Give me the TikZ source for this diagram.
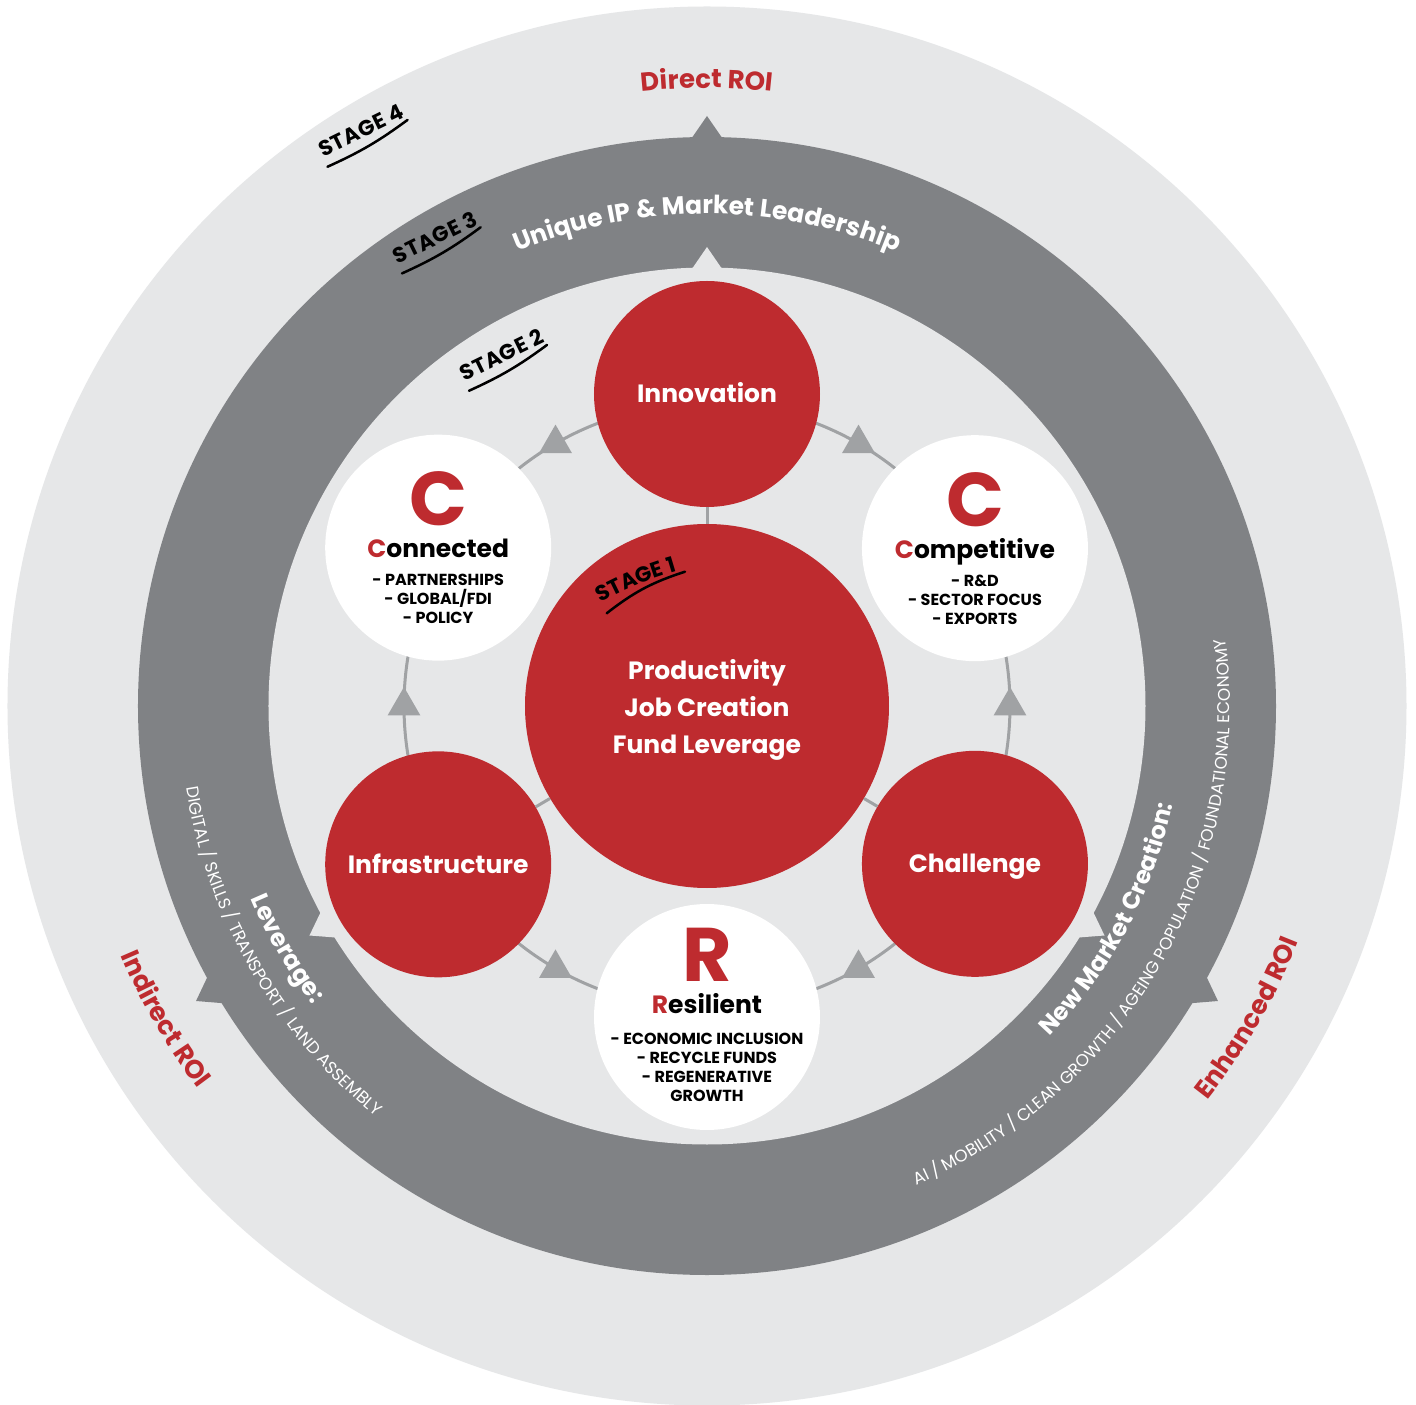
\documentclass[tikz,border=0pt]{standalone}
\usepackage{fontspec}
\setmainfont{Poppins}
\usetikzlibrary{calc, positioning, shapes, decorations.text}
\definecolor{bggray}{HTML}{E6E7E8}
\definecolor{ringgray}{HTML}{808285}
\definecolor{linkgray}{HTML}{A0A2A4}
\definecolor{roired}{HTML}{BE2B2F}
\tikzstyle{core}=[circle, fill=roired, minimum size=364pt, inner sep=0pt]
\tikzstyle{red circle}=[circle, fill=roired, minimum size=226pt, inner sep=0pt]
\tikzstyle{white circle}=[circle, fill=white, minimum size=226pt, inner sep=0pt]
\tikzstyle{flow mark}=[regular polygon, regular polygon sides=3, fill=linkgray, minimum size=38pt, inner sep=0pt]
\tikzstyle{link}=[draw=linkgray, line width=3pt]
\tikzstyle{heading}=[anchor=base, inner sep=0pt, font=\bfseries\fontsize{25}{25}\selectfont]
\tikzstyle{big letter}=[anchor=base, inner sep=0pt, text=roired, font=\bfseries\fontsize{76}{76}\selectfont]
\tikzstyle{item}=[anchor=base, inner sep=0pt, font=\bfseries\fontsize{16}{16}\selectfont]
\tikzstyle{stage}=[anchor=base, inner sep=0pt, rotate=26, font=\bfseries\fontsize{21.5}{21.5}\selectfont\addfontfeatures{LetterSpace=3}]
\tikzstyle{stage line}=[line width=2.5pt, line cap=round]
\begin{document}
\begin{tikzpicture}[x=1pt, y=1pt]
		\useasboundingbox (-707,-699) rectangle (709,706);
		\fill[white] (-707,-699) rectangle (709,706);
		% Draw the stage rings
		\fill[bggray] (0,0) circle (699.5);
		\fill[ringgray] (0,0) circle (569);
		\foreach \a in {90,210,330}
		\fill[ringgray] ({\a-1.7}:566) -- (\a:590) -- ({\a+1.7}:566) -- cycle;
		\fill[bggray] (0,0) circle (438.5);
		\foreach \a in {90,210,330}
		\fill[bggray] ({\a-2.2}:435) -- (\a:459) -- ({\a+2.2}:435) -- cycle;
		% Draw the cycle between the pillars
		\draw[link] (0,0) circle (303);
		\foreach \a in {0,60,...,300}
		\node[flow mark] (mark-\a) at (\a:303) {};
		% Draw the core and the pillars
		\node[core] (core) at (0,0) {};
		\node[red circle] (innov) at (90:312) {};
		\node[white circle] (comp) at (30.5:311) {};
		\node[red circle] (chall) at (329.5:311) {};
		\node[white circle] (resil) at (270:311) {};
		\node[red circle] (infra) at (210.5:312) {};
		\node[white circle] (conn) at (149.5:312) {};
		\foreach \n in {innov, infra, chall}
		\draw[link] (core) -- (\n);
		% Core text
		\node[heading, text=white] (prod) at ($(core)+(0,26)$) {Productivity};
		\node[heading, text=white] (jobs) at ($(core)+(0,-11)$) {Job Creation};
		\node[heading, text=white] (fund) at ($(core)+(0,-48)$) {Fund Leverage};
		% Red pillars
		\node[heading, text=white] (innov-label) at ([yshift=-9pt]innov.center) {Innovation};
		\node[heading, text=white] (infra-label) at ([yshift=-9pt]infra.center) {Infrastructure};
		\node[heading, text=white] (chall-label) at ([yshift=-9pt]chall.center) {Challenge};
		% White pillars
		\node[big letter] (conn-C) at ([yshift=22pt]conn.center) {C};
		\node[heading] (conn-title) at ([yshift=-10pt]conn.center) {\textcolor{roired}{C}onnected};
		\foreach \txt [count=\i] in {- PARTNERSHIPS, - GLOBAL/FDI, - POLICY}
		\node[item] (conn-\i) at ($(conn)+(0,{-19-19*\i})$) {\txt};
		\node[big letter] (comp-C) at ([yshift=22pt]comp.center) {C};
		\node[heading] (comp-title) at ([yshift=-10pt]comp.center) {\textcolor{roired}{C}ompetitive};
		\foreach \txt [count=\i] in {- R\&D, - SECTOR FOCUS, - EXPORTS}
		\node[item] (comp-\i) at ($(comp)+(0,{-19-19*\i})$) {\txt};
		\node[big letter] (resil-R) at ([yshift=36pt]resil.center) {R};
		\node[heading] (resil-title) at ([yshift=4pt]resil.center) {\textcolor{roired}{R}esilient};
		\foreach \txt [count=\i] in {- ECONOMIC INCLUSION, - RECYCLE FUNDS, - REGENERATIVE, GROWTH}
		\node[item] (resil-\i) at ($(resil)+(0,{-8-19*\i})$) {\txt};
		% Texts along the rings
		\path[decorate, decoration={text along path, text align=center,
			text={|\bfseries\fontsize{25}{25}\selectfont\color{white}|Unique IP {\&} Market Leadership}}]
		(135:492) arc (135:45:492);
		\path[decorate, decoration={text along path, text align=center,
			text={|\bfseries\fontsize{26}{26}\selectfont\color{roired}|Direct ROI}}]
		(105:618) arc (105:75:618);
		\path[decorate, decoration={text along path, text align=center,
			text={|\bfseries\fontsize{26}{26}\selectfont\color{roired}|Indirect ROI}}]
		(185:637) arc (185:235:637);
		\path[decorate, decoration={text along path, text align=center,
			text={|\bfseries\fontsize{26}{26}\selectfont\color{roired}|Enhanced ROI}}]
		(305:637) arc (305:355:637);
		\path[decorate, decoration={text along path, text align=center,
			text={|\bfseries\fontsize{24.5}{24.5}\selectfont\color{white}|Leverage:}}]
		(185:495) arc (185:235:495);
		\path[decorate, decoration={text along path, text align=center,
			text={|\fontsize{17}{17}\selectfont\color{white}|DIGITAL / SKILLS / TRANSPORT / LAND ASSEMBLY}}]
		(165:527) arc (165:255:527);
		\path[decorate, decoration={text along path, text align=center,
			text={|\bfseries\fontsize{24}{24}\selectfont\color{white}|New Market Creation:}}]
		(297:476) arc (297:367:476);
		\path[decorate, decoration={text along path, text align=center,
			text={|\fontsize{17}{17}\selectfont\color{white}|AI / MOBILITY / CLEAN GROWTH / AGEING POPULATION / FOUNDATIONAL ECONOMY}}]
		(265:523) arc (265:396:523);
		% Stage labels
		\node[stage] (stage4) at (-342.5,568.8) {STAGE 4};
		\draw[stage line] ([shift={(-64:10)}]stage4.south west) to[bend right=6] ([shift={(-64:3)}]stage4.south east);
		\node[stage] (stage3) at (-268.7,461.8) {STAGE 3};
		\draw[stage line] ([shift={(-64:10)}]stage3.south west) to[bend right=6] ([shift={(-64:3)}]stage3.south east);
		\node[stage] (stage2) at (-202,344.3) {STAGE 2};
		\draw[stage line] ([shift={(-64:10)}]stage2.south west) to[bend right=6] ([shift={(-64:3)}]stage2.south east);
		\path[decorate, decoration={text along path, text align=center,
			text={|\bfseries\fontsize{21.5}{21.5}\selectfont|STAGE 1}}]
		(-124.3,93.3) to[bend left=8] (-9.7,140.7);
		\draw[stage line] (-100.3,92.7) to[bend left=10] (-22,134.3);
	\end{tikzpicture}
\end{document}
